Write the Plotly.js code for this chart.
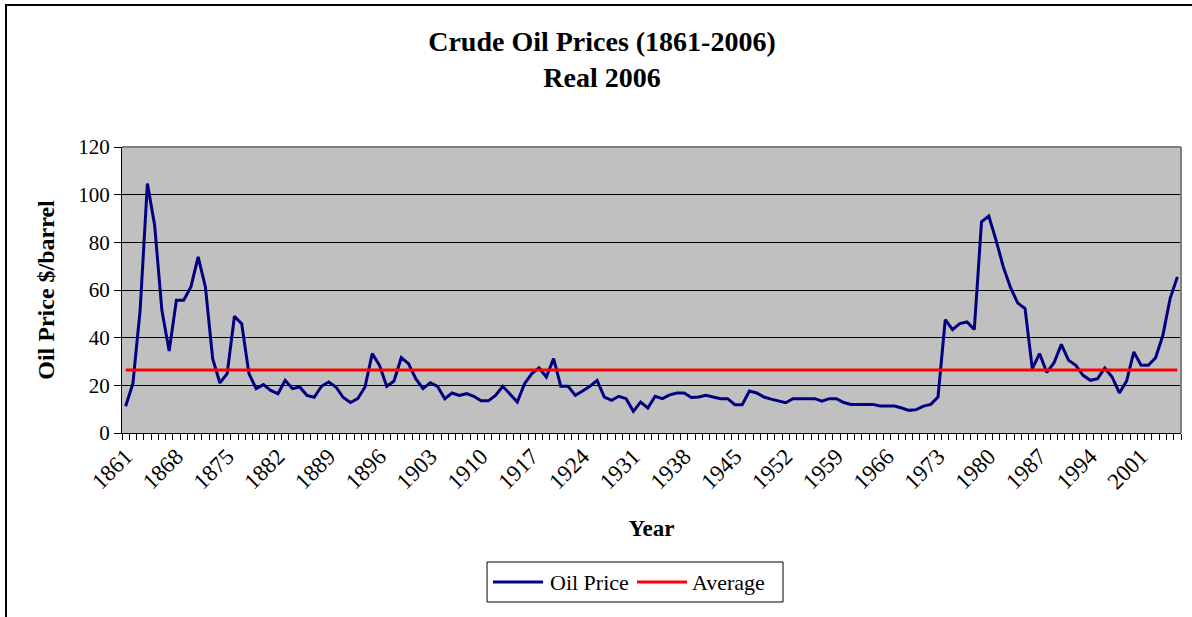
<!DOCTYPE html>
<html>
<head>
<meta charset="utf-8">
<script src="https://cdn.plot.ly/plotly-3.0.1.min.js"></script>
<style>
  html, body { margin: 0; padding: 0; background: #fff; }
  #chart { position: absolute; left: 0; top: 0; width: 1192px; height: 617px; }
  #frame { position: absolute; left: 5px; top: 4px; width: 1300px; height: 700px;
           border-left: 2px solid #000; border-top: 2px solid #000; pointer-events: none; }
</style>
</head>
<body>
<div id="chart"></div>
<div id="frame"></div>
<script>
// Categories: years 1861..2006
const firstYear = 1861;
const lastYear = 2006;
const years = [];
for (let y = firstYear; y <= lastYear; y++) years.push(y);

// Oil price, real 2006 $/barrel
const oilPrice = [
  11.2, 20.7, 51.5, 104.7, 87.2, 51.5, 34.4, 55.7, 55.7, 61.3,   // 1861-1870
  73.9, 61.3, 31.2, 21.0, 24.9, 49.0, 45.9, 24.9, 18.6, 20.3,    // 1871-1880
  17.9, 16.5, 22.1, 18.6, 19.3, 15.8, 15.0, 19.6, 21.4, 19.3,    // 1881-1890
  14.9, 12.8, 14.4, 19.3, 33.3, 28.4, 19.6, 21.8, 31.6, 29.1,    // 1891-1900
  22.8, 18.6, 21.1, 19.6, 14.4, 16.8, 15.8, 16.5, 15.4, 13.5,    // 1901-1910
  13.5, 15.8, 19.6, 16.5, 13.0, 20.7, 24.9, 27.3, 23.5, 31.2,    // 1911-1920
  19.6, 19.6, 15.8, 17.6, 19.6, 22.1, 15.1, 13.7, 15.4, 14.4,    // 1921-1930
  9.1, 13.0, 10.5, 15.4, 14.4, 16.0, 16.8, 16.8, 14.9, 15.1,     // 1931-1940
  15.8, 15.1, 14.4, 14.4, 11.9, 11.9, 17.6, 16.8, 15.1, 14.2,    // 1941-1950
  13.4, 12.7, 14.4, 14.4, 14.4, 14.4, 13.4, 14.4, 14.4, 12.8,    // 1951-1960
  12.0, 12.0, 12.0, 12.0, 11.3, 11.3, 11.3, 10.5, 9.5, 9.8,      // 1961-1970
  11.3, 12.0, 15.1, 47.6, 43.4, 45.9, 46.6, 43.4, 88.6, 91.0,    // 1971-1980
  80.9, 69.7, 61.0, 54.5, 52.2, 27.0, 33.3, 25.4, 29.5, 37.2,    // 1981-1990
  30.5, 28.4, 24.2, 22.1, 22.8, 27.3, 23.5, 16.8, 21.8, 34.0,    // 1991-2000
  28.4, 28.4, 31.6, 41.0, 56.4, 65.5                             // 2001-2006
];

// Average over the period
const averagePrice = 26.4;
const averageSeries = years.map(() => averagePrice);

// Tick labels shown on the category axis
const tickYears = [1861, 1868, 1875, 1882, 1889, 1896, 1903, 1910, 1917, 1924,
                   1931, 1938, 1945, 1952, 1959, 1966, 1973, 1980, 1987, 1994, 2001];
const yTicks = [0, 20, 40, 60, 80, 100, 120];

// Series names / colours
const seriesNames = ['Oil Price', 'Average'];
const seriesColors = ['#000080', '#FF0000'];

const serif = "'Liberation Serif', 'Times New Roman', serif";

const traces = [
  {
    x: years, y: oilPrice, type: 'scatter', mode: 'lines', name: seriesNames[0],
    line: { color: seriesColors[0], width: 3 }
  },
  {
    x: years, y: averageSeries, type: 'scatter', mode: 'lines', name: seriesNames[1],
    line: { color: seriesColors[1], width: 3 }
  }
];

// Legend drawn as a boxed key below the plot (paper coordinates)
const legBox = { x0: 0.3447, x1: 0.6242, y0: -0.5909, y1: -0.4510 };
const legY = -0.521;
const legItems = [
  { lx0: 0.3503, lx1: 0.3976, tx: 0.4023 },
  { lx0: 0.4863, lx1: 0.5335, tx: 0.5364 }
];

const shapes = [
  { type: 'line', xref: 'paper', yref: 'paper', x0: 0, x1: 1, y0: 1, y1: 1, line: { color: '#808080', width: 2 }, layer: 'above' },
  { type: 'line', xref: 'paper', yref: 'paper', x0: 1, x1: 1, y0: 0, y1: 1, line: { color: '#808080', width: 2 }, layer: 'above' },
  { type: 'rect', xref: 'paper', yref: 'paper', x0: legBox.x0, x1: legBox.x1, y0: legBox.y0, y1: legBox.y1,
    line: { color: '#000', width: 1 }, fillcolor: '#FFFFFF', layer: 'above' }
];
const annotations = [];
legItems.forEach((it, i) => {
  shapes.push({ type: 'line', xref: 'paper', yref: 'paper', x0: it.lx0, x1: it.lx1, y0: legY, y1: legY,
    line: { color: seriesColors[i], width: 3 }, layer: 'above' });
  annotations.push({ xref: 'paper', yref: 'paper', x: it.tx, y: legY, xanchor: 'left', yanchor: 'middle',
    text: seriesNames[i], showarrow: false, font: { family: serif, size: 22, color: '#000' } });
});

const layout = {
  width: 1192, height: 617,
  margin: { l: 122, r: 11, t: 147, b: 184 },
  paper_bgcolor: '#FFFFFF',
  plot_bgcolor: '#C0C0C0',
  font: { family: serif, size: 21, color: '#000' },
  title: {
    text: '<b>Crude Oil Prices (1861-2006)<br>Real 2006</b>',
    font: { family: serif, size: 28, color: '#000' },
    x: 0.505, xanchor: 'center',
    y: 0.918, yanchor: 'top'
  },
  showlegend: false,
  xaxis: {
    type: 'linear',
    range: [firstYear - 0.5, lastYear + 0.5],
    tickmode: 'array', tickvals: tickYears, ticktext: tickYears.map(String),
    tickangle: -45,
    ticks: '',
    showgrid: false, zeroline: false,
    showline: true, linecolor: '#000', linewidth: 1,
    tickfont: { family: serif, size: 23, color: '#000' },
    minor: { tick0: firstYear - 0.5, dtick: 1, ticks: 'outside', ticklen: 6, tickcolor: '#000', tickwidth: 1, showgrid: false },
    title: { text: '<b>Year</b>', font: { family: serif, size: 23, color: '#000' }, standoff: 26 },
    fixedrange: true
  },
  yaxis: {
    range: [0, 120],
    tickmode: 'array', tickvals: yTicks,
    ticks: 'outside', ticklen: 7, tickcolor: '#000', tickwidth: 1,
    showgrid: true, gridcolor: '#000', gridwidth: 1,
    zeroline: false,
    showline: true, linecolor: '#000', linewidth: 1,
    tickfont: { family: serif, size: 21, color: '#000' },
    title: { text: '<b>Oil Price $/barrel</b>', font: { family: serif, size: 24, color: '#000' }, standoff: 16 },
    fixedrange: true
  },
  shapes: shapes,
  annotations: annotations
};

Plotly.newPlot('chart', traces, layout, { displayModeBar: false, staticPlot: true });
</script>
</body>
</html>
